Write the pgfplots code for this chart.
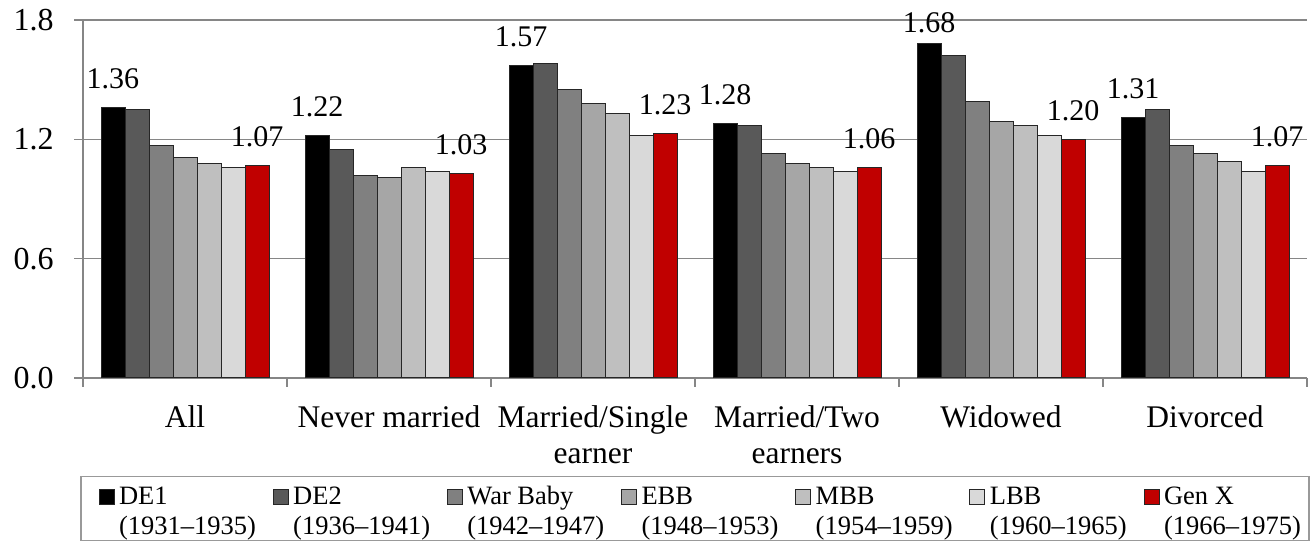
\documentclass[border=0pt]{standalone}
\usepackage{fontspec}
\setmainfont{Liberation Serif}
\usepackage{pgfplots}
\pgfplotsset{compat=1.18}
\definecolor{axgray}{RGB}{134,134,134}
\definecolor{c1}{RGB}{0,0,0}
\definecolor{c2}{RGB}{89,89,89}
\definecolor{c3}{RGB}{128,128,128}
\definecolor{c4}{RGB}{166,166,166}
\definecolor{c5}{RGB}{191,191,191}
\definecolor{c6}{RGB}{217,217,217}
\definecolor{c7}{RGB}{192,0,0}
\newcommand\legtxt[2]{\vtop{\hbox{\rule{0pt}{10.8pt}#1}\hbox{\rule[-2.4pt]{0pt}{0pt}#2}}}
\newcommand\twoline[2]{\begin{tabular}[t]{@{}c@{}}#1\\#2\end{tabular}}
\begin{document}
\begin{tikzpicture}
\path[use as bounding box] (0,0) rectangle (526.4pt,216.4pt);
\begin{axis}[
  at={(33.2pt,65.2pt)}, anchor=south west,
  scale only axis, width=489.6pt, height=143.2pt,
  xmin=-0.5, xmax=5.5, ymin=0, ymax=1.8,
  ybar=0pt, bar width=9.6pt,
  xtick={0,1,2,3,4,5},
  xticklabels={All,Never married,\twoline{Married/Single}{earner},\twoline{Married/Two}{earners},Widowed,Divorced},
  minor xtick={-0.5,0.5,1.5,2.5,3.5,4.5,5.5},
  ytick={0,0.6,1.2,1.8},
  /pgf/number format/assume math mode=true,
  yticklabel style={/pgf/number format/fixed,/pgf/number format/zerofill,/pgf/number format/precision=1,
     font=\fontsize{12.8}{14}\selectfont, anchor=east, inner sep=0pt, xshift=-8pt},
  x tick label style={font=\fontsize{12.6}{14.6}\selectfont, anchor=base, inner sep=0pt, yshift=-16.2pt},
  axis lines*=left,
  axis line style={axgray, line width=0.5pt},
  tick style={axgray, line width=0.5pt},
  major x tick style={draw=none},
  tick align=outside, tick pos=left,
  major tick length=3.6pt, minor tick length=3.6pt,
  ymajorgrids, major grid style={axgray, line width=0.5pt},
  legend columns=7,
  legend image code/.code={\path[draw=none,fill=none] (-4pt,0pt) -- (8pt,0pt); \draw[#1, line width=0.4pt] (0pt,0pt) rectangle (6pt,6pt);},
  legend style={at={(0.5,-0.2737)}, anchor=north, draw=black!40, line width=0.5pt,
     inner xsep=3.2pt, inner ysep=0.2pt, font=\fontsize{10.6}{12}\selectfont,
     nodes={inner sep=0pt, text depth=}, cells={anchor=base west},
     /tikz/every even column/.append style={column sep=2.9pt}},
  every node near coord/.append style={anchor=base, yshift=7.6pt, font=\fontsize{12}{14}\selectfont, text=black},
]
\addplot[fill=c1, draw=black!85, line width=0.4pt, bar shift=-28.8pt]
  coordinates {(0,1.36) (1,1.22) (2,1.57) (3,1.28) (4,1.68) (5,1.31)};
\addlegendentry{\legtxt{DE1}{(1931--1935)}}
\addplot[fill=c2, draw=black!85, line width=0.4pt, bar shift=-19.2pt]
  coordinates {(0,1.35) (1,1.15) (2,1.58) (3,1.27) (4,1.62) (5,1.35)};
\addlegendentry{\legtxt{DE2}{(1936--1941)}}
\addplot[fill=c3, draw=black!85, line width=0.4pt, bar shift=-9.6pt]
  coordinates {(0,1.17) (1,1.02) (2,1.45) (3,1.13) (4,1.39) (5,1.17)};
\addlegendentry{\legtxt{War Baby}{(1942--1947)}}
\addplot[fill=c4, draw=black!85, line width=0.4pt, bar shift=0pt]
  coordinates {(0,1.11) (1,1.01) (2,1.38) (3,1.08) (4,1.29) (5,1.13)};
\addlegendentry{\legtxt{EBB}{(1948--1953)}}
\addplot[fill=c5, draw=black!85, line width=0.4pt, bar shift=9.6pt]
  coordinates {(0,1.08) (1,1.06) (2,1.33) (3,1.06) (4,1.27) (5,1.09)};
\addlegendentry{\legtxt{MBB}{(1954--1959)}}
\addplot[fill=c6, draw=black!85, line width=0.4pt, bar shift=19.2pt]
  coordinates {(0,1.06) (1,1.04) (2,1.22) (3,1.04) (4,1.22) (5,1.04)};
\addlegendentry{\legtxt{LBB}{(1960--1965)}}
\addplot[fill=c7, draw=black!85, line width=0.4pt, bar shift=28.8pt,
  nodes near coords={\pgfmathprintnumber[fixed,zerofill,precision=2]{\pgfplotspointmeta}}]
  coordinates {(0,1.07) (1,1.03) (2,1.23) (3,1.06) (4,1.20) (5,1.07)};
\addlegendentry{\legtxt{Gen X}{(1966--1975)}}
% DE1 value labels (invisible carrier plots)
\addplot[forget plot, draw=none, fill=none, bar shift=-28.8pt,
  nodes near coords={\pgfmathprintnumber[fixed,zerofill,precision=2]{\pgfplotspointmeta}}]
  coordinates {(0,1.36) (1,1.22) (2,1.57) (3,1.28) (5,1.31)};
% the 1.68 label sits lower, kept inside the plot area
\addplot[forget plot, draw=none, fill=none, bar shift=-28.8pt,
  nodes near coords={1.68}]
  coordinates {(4,1.64)};
\end{axis}
\end{tikzpicture}
\end{document}
